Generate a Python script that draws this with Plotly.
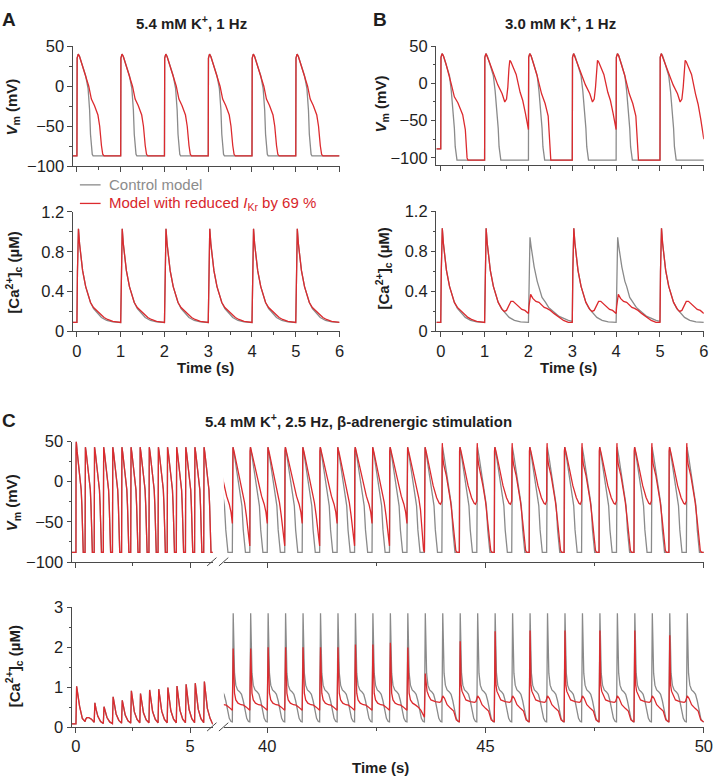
import plotly.graph_objects as go

W, H = 721, 784
GRAY = '#8a8a8a'
RED = '#dc2a2e'
AX = '#4a4a4a'
FONT = 'Liberation Sans, Arial, sans-serif'

# ================= Panel A: 5.4 mM K+, 1 Hz =================
A_stim = [0, 1, 2, 3, 4, 5]
A_vm_ctrl_dt = [0.005, 0.03, 0.06, 0.12, 0.2, 0.255, 0.29, 0.31, 0.33, 0.35, 0.37, 1.0]
A_vm_ctrl = [35, 40, 37, 26, 13, -3, -30, -60, -78, -85, -87, -87]
A_vm_red_dt = [0.005, 0.03, 0.06, 0.12, 0.2, 0.27, 0.33, 0.4, 0.48, 0.52, 0.56, 0.59, 0.62, 1.0]
A_vm_red = [35, 40, 37, 26, 13, 0, -16, -24, -36, -50, -74, -85, -87, -87]
A_ca_ctrl_dt = [0.012, 0.035, 0.06, 0.09, 0.13, 0.2, 0.25, 0.31, 0.38, 0.46, 0.56, 0.68, 0.82, 1.0]
A_ca_ctrl = [0.6, 1.03, 0.88, 0.74, 0.61, 0.45, 0.37, 0.29, 0.23, 0.19, 0.14, 0.11, 0.095, 0.09]
A_ca_red_dt = [0.012, 0.035, 0.06, 0.09, 0.13, 0.2, 0.25, 0.31, 0.38, 0.44, 0.5, 0.56, 0.62, 0.7, 0.82, 1.0]
A_ca_red = [0.6, 1.03, 0.88, 0.74, 0.61, 0.45, 0.37, 0.29, 0.24, 0.215, 0.2, 0.17, 0.14, 0.12, 0.1, 0.09]

# ================= Panel B: 3.0 mM K+, 1 Hz =================
B_stim = [0, 1, 2, 3, 4, 5]
B_red_kind = ['S0', 'E', 'S2', 'E', 'S2', 'E6']
B_ctrl_ca_kind = ['n', 'n', 'low', 'n', 'low', 'n']
B_vm_ctrl_dt = [0.005, 0.03, 0.06, 0.12, 0.2, 0.24, 0.28, 0.31, 0.33, 0.35, 0.37, 1.0]
B_vm_ctrl = [35, 40, 37, 26, 10, -10, -35, -60, -85, -100, -103, -103]
B_vm_S0_dt = [0.005, 0.03, 0.06, 0.12, 0.24, 0.31, 0.39, 0.5, 0.56, 0.58, 0.6, 0.62, 1.0]
B_vm_S0 = [35, 40, 37, 26, -1, -18, -26, -42, -62, -85, -100, -103, -103]
B_vm_E_dt = [0.005, 0.03, 0.1, 0.21, 0.3, 0.4, 0.46, 0.5, 0.53, 0.555, 0.575, 0.6, 0.72, 0.81, 0.87, 0.93, 1.0]
B_vm_E = [35, 40, 30, 12, -2, -14, -25, -21, -5, 20, 31, 29, 12, -12, -23, -40, -62]
B_vm_E6 = [35, 40, 30, 12, -2, -14, -25, -21, -5, 20, 31, 29, 12, -14, -28, -48, -75]
B_vm_S2_dt = [0.005, 0.03, 0.06, 0.12, 0.19, 0.3, 0.38, 0.45, 0.47, 0.49, 0.51, 1.0]
B_vm_S2 = [35, 40, 37, 26, 12, -14, -27, -44, -70, -98, -103, -103]
B_ca_low_dt = [0.012, 0.035, 0.06, 0.09, 0.13, 0.2, 0.24, 0.31, 0.39, 0.46, 0.54, 0.7, 0.91, 1.0]
B_ca_low = [0.55, 0.94, 0.85, 0.74, 0.645, 0.5, 0.45, 0.34, 0.29, 0.24, 0.21, 0.15, 0.11, 0.1]
B_ca_E_dt = [0.012, 0.035, 0.06, 0.09, 0.13, 0.2, 0.31, 0.4, 0.45, 0.5, 0.55, 0.6, 0.65, 0.72, 0.8, 0.85, 0.92, 1.0]
B_ca_E = [0.6, 1.03, 0.88, 0.74, 0.61, 0.45, 0.29, 0.22, 0.2, 0.21, 0.25, 0.3, 0.3, 0.27, 0.24, 0.22, 0.21, 0.18]
B_ca_S2_dt = [0.012, 0.05, 0.1, 0.17, 0.24, 0.3, 0.36, 0.42, 0.5, 0.58, 0.69, 0.8, 0.91, 1.0]
B_ca_S2 = [0.25, 0.37, 0.33, 0.3, 0.29, 0.26, 0.24, 0.23, 0.21, 0.18, 0.145, 0.11, 0.09, 0.09]

# ========== Panel C: 5.4 mM K+, 2.5 Hz, beta-adrenergic ==========
C_left_stim = [0.0, 0.4, 0.8, 1.2, 1.6, 2.0, 2.4, 2.8, 3.2, 3.6, 4.0, 4.4, 4.8, 5.2, 5.6]
C_left_kind = ['first', 'n', 'n', 'n', 'n', 'n', 'n', 'n', 'n', 'n', 'n', 'n', 'n', 'n', 'n']
C_vm_first_dt = [0.005, 0.015, 0.05, 0.1, 0.18, 0.23, 0.26, 0.28, 0.3, 0.32, 0.4]
C_vm_first = [40, 50, 38, 25, 8, -10, -30, -60, -84, -88, -88]
C_vm_left_dt = [0.005, 0.015, 0.05, 0.1, 0.18, 0.23, 0.26, 0.28, 0.3, 0.32, 0.4]
C_vm_left = [38, 43, 36, 25, 8, -10, -30, -60, -84, -88, -88]
C_ca_left_dt = [0.03, 0.08, 0.16, 0.28, 0.4]
C_ca_pk = [1.02, 0.20, 0.61, 0.51, 0.76, 0.67, 0.91, 0.84, 0.93, 0.95, 0.99, 1.03, 1.07, 1.10, 1.14]
C_ca_m1 = [0.80, 0.24, 0.45, 0.38, 0.56, 0.50, 0.66, 0.62, 0.68, 0.69, 0.72, 0.74, 0.77, 0.79, 0.82]
C_ca_m2 = [0.52, 0.24, 0.27, 0.24, 0.33, 0.30, 0.38, 0.36, 0.39, 0.40, 0.41, 0.42, 0.44, 0.45, 0.47]
C_ca_m3 = [0.22, 0.20, 0.14, 0.13, 0.17, 0.16, 0.19, 0.18, 0.19, 0.19, 0.20, 0.20, 0.21, 0.21, 0.22]
C_ca_end = [0.14, 0.12, 0.09, 0.09, 0.10, 0.10, 0.11, 0.11, 0.11, 0.11, 0.11, 0.11, 0.11, 0.11, 0.07]

C_right_ctrl_stim = [38.8, 39.2, 39.6, 40.0, 40.4, 40.8, 41.2, 41.6, 42.0, 42.4, 42.8, 43.2, 43.6, 44.0,
                     44.4, 44.8, 45.2, 45.6, 46.0, 46.4, 46.8, 47.2, 47.6, 48.0, 48.4, 48.8, 49.2, 49.6]
C_right_red_stim = [38.8, 39.2, 39.6, 40.0, 40.4, 40.8, 41.2, 41.6, 42.0, 42.4, 42.8, 43.2,
                    43.6, 44.4, 45.2, 46.0, 46.8, 47.6, 48.4, 49.2]
C_right_red_kind = ['a', 'b', 'a', 'b', 'a', 'b', 'a', 'b', 'a', 'b', 'a', 'r',
                    'p', 'p', 'p', 'p', 'p', 'p', 'p', 'p']
C_right_red_ca_kind = ['e', 'e', 'e', 'e', 'e', 'e', 'e', 'e', 'e', 'e', 'e', 'r',
                       'p', 'p', 'p', 'p', 'p', 'p', 'p', 'p']
C_right_red_ca_pk = [1.97, 1.97, 1.97, 2.0, 2.0, 2.0, 2.0, 2.0, 2.07, 2.07, 2.11, 1.99,
                     1.34, 2.15, 2.4, 2.42, 2.42, 2.42, 2.42, 2.3]
C_vm_rctrl_dt = [0.005, 0.015, 0.05, 0.1, 0.14, 0.18, 0.22, 0.25, 0.28, 0.3, 0.4]
C_vm_rctrl = [38, 43, 32, 12, -3, -15, -30, -60, -84, -88, -88]
C_vm_a_dt = [0.005, 0.015, 0.05, 0.1, 0.2, 0.27, 0.33, 0.37, 0.4]
C_vm_a = [38, 43, 35, 22, -3, -18, -28, -38, -52]
C_vm_b_dt = [0.005, 0.015, 0.05, 0.1, 0.2, 0.26, 0.28, 0.32, 0.36, 0.4]
C_vm_b = [38, 43, 35, 22, -5, -22, -26, -42, -62, -80]
C_vm_r_dt = [0.005, 0.015, 0.05, 0.1, 0.2, 0.27, 0.31, 0.35, 0.38, 0.4]
C_vm_r = [38, 43, 35, 22, -3, -20, -35, -65, -85, -88]
C_vm_p_dt = [0.005, 0.015, 0.05, 0.1, 0.2, 0.28, 0.34, 0.37, 0.4, 0.404, 0.41, 0.42, 0.44, 0.5,
             0.54, 0.6, 0.65, 0.69, 0.72, 0.75, 0.8]
C_vm_p = [38, 43, 35, 22, -5, -20, -27, -28, -24, 35, 48, 32, 22, 8,
          -5, -25, -49, -75, -86, -88, -88]
C_ca_rctrl_dt = [0.02, 0.035, 0.05, 0.08, 0.12, 0.17, 0.21, 0.25, 0.29, 0.33, 0.37, 0.4]
C_ca_rctrl = [2.85, 1.9, 1.35, 1.05, 0.93, 0.88, 0.82, 0.66, 0.42, 0.22, 0.14, 0.13]
C_ca_e_dt = [0.02, 0.035, 0.05, 0.08, 0.13, 0.2, 0.26, 0.32, 0.37, 0.4]
C_ca_e = ['pk', 1.3, 0.85, 0.68, 0.6, 0.56, 0.55, 0.5, 0.45, 0.42]
C_ca_r = ['pk', 1.3, 0.85, 0.68, 0.6, 0.55, 0.5, 0.42, 0.32, 0.25]
C_ca_p_dt = [0.02, 0.04, 0.06, 0.1, 0.15, 0.25, 0.35, 0.38, 0.42, 0.46, 0.52, 0.6, 0.67, 0.73, 0.77, 0.8]
C_ca_p = ['pk', 1.05, 0.9, 0.78, 0.68, 0.64, 0.62, 0.64, 0.78, 0.72, 0.56, 0.47, 0.4, 0.18, 0.14, 0.13]


def build(init_t, init_v, stims, kinds, templates, per_beat=None):
    ts, vs = list(init_t), list(init_v)
    for i, (t0, k) in enumerate(zip(stims, kinds)):
        dts, vals = templates[k]
        for dt, v in zip(dts, vals):
            if isinstance(v, str):
                v = per_beat[v][i]
            ts.append(round(t0 + dt, 4))
            vs.append(v)
    return ts, vs


def px(x):
    return x / W


def py(y):
    return 1 - y / H


fig = go.Figure()


def add(xy, color, xa, ya):
    fig.add_trace(go.Scatter(x=xy[0], y=xy[1], mode='lines', xaxis=xa, yaxis=ya,
                             line=dict(color=color, width=1.3), hoverinfo='skip',
                             showlegend=False))


# Panel A
one = ['x'] * 6
add(build([-0.1, 0], [-87, -87], A_stim, one, {'x': (A_vm_ctrl_dt, A_vm_ctrl)}), GRAY, 'x', 'y')
add(build([-0.1, 0], [-87, -87], A_stim, one, {'x': (A_vm_red_dt, A_vm_red)}), RED, 'x', 'y')
add(build([-0.1, 0], [0.09, 0.09], A_stim, one, {'x': (A_ca_ctrl_dt, A_ca_ctrl)}), GRAY, 'x2', 'y2')
add(build([-0.1, 0], [0.09, 0.09], A_stim, one, {'x': (A_ca_red_dt, A_ca_red)}), RED, 'x2', 'y2')

# Panel B
add(build([-0.1, 0], [-88, -88], B_stim, one, {'x': (B_vm_ctrl_dt, B_vm_ctrl)}), GRAY, 'x3', 'y3')
add(build([-0.1, 0], [-88, -88], B_stim, B_red_kind,
          {'S0': (B_vm_S0_dt, B_vm_S0), 'E': (B_vm_E_dt, B_vm_E), 'E6': (B_vm_E_dt, B_vm_E6),
           'S2': (B_vm_S2_dt, B_vm_S2)}), RED, 'x3', 'y3')
add(build([-0.1, 0], [0.09, 0.09], B_stim, B_ctrl_ca_kind,
          {'n': (A_ca_ctrl_dt, A_ca_ctrl), 'low': (B_ca_low_dt, B_ca_low)}), GRAY, 'x4', 'y4')
add(build([-0.1, 0], [0.09, 0.09], B_stim, B_red_kind,
          {'S0': (A_ca_red_dt, A_ca_red), 'E': (B_ca_E_dt, B_ca_E), 'E6': (B_ca_E_dt, B_ca_E),
           'S2': (B_ca_S2_dt, B_ca_S2)}), RED, 'x4', 'y4')

# Panel C left
cl_vm = build([-0.2, 0], [-88, -88], C_left_stim, C_left_kind,
              {'first': (C_vm_first_dt, C_vm_first), 'n': (C_vm_left_dt, C_vm_left)})
cl_ca = build([-0.2, 0], [0.08, 0.08], C_left_stim, ['n'] * len(C_left_stim),
              {'n': (C_ca_left_dt, ['pk', 'm1', 'm2', 'm3', 'end'])},
              {'pk': C_ca_pk, 'm1': C_ca_m1, 'm2': C_ca_m2, 'm3': C_ca_m3, 'end': C_ca_end})
add(cl_vm, GRAY, 'x5', 'y5')
add(cl_vm, RED, 'x5', 'y5')
add(cl_ca, GRAY, 'x7', 'y7')
add(cl_ca, RED, 'x7', 'y7')

# Panel C right
nC = len(C_right_ctrl_stim)
add(build([38.8], [-88], C_right_ctrl_stim, ['n'] * nC, {'n': (C_vm_rctrl_dt, C_vm_rctrl)}), GRAY, 'x6', 'y5')
add(build([38.8], [-52], C_right_red_stim, C_right_red_kind,
          {'a': (C_vm_a_dt, C_vm_a), 'b': (C_vm_b_dt, C_vm_b), 'r': (C_vm_r_dt, C_vm_r),
           'p': (C_vm_p_dt, C_vm_p)}), RED, 'x6', 'y5')
add(build([38.8], [0.13], C_right_ctrl_stim, ['n'] * nC, {'n': (C_ca_rctrl_dt, C_ca_rctrl)}), GRAY, 'x8', 'y7')
add(build([38.8], [0.42], C_right_red_stim, C_right_red_ca_kind,
          {'e': (C_ca_e_dt, C_ca_e), 'r': (C_ca_e_dt, C_ca_r), 'p': (C_ca_p_dt, C_ca_p)},
          {'pk': C_right_red_ca_pk}), RED, 'x8', 'y7')


def axis(domain, rng, dtick, minor, tick0=0, labels=True, anchor=None, line=True):
    d = dict(domain=domain, range=rng, tickmode='linear', tick0=tick0, dtick=dtick,
             showline=line, linecolor=AX, linewidth=1, ticks='outside', ticklen=4.5,
             tickwidth=1, tickcolor=AX, showgrid=False, zeroline=False,
             showticklabels=labels, tickfont=dict(family=FONT, size=16.5, color='#1e1e1e'),
             minor=dict(ticks='outside', dtick=minor, tick0=tick0, ticklen=2.5,
                        tickwidth=1, tickcolor=AX, showgrid=False),
             fixedrange=True)
    if anchor:
        d['anchor'] = anchor
    return d


xA = [px(73), px(343.3)]
xB = [px(441.5), px(712.7)]
fig.update_layout(
    width=W, height=H, margin=dict(l=0, r=0, t=0, b=0),
    paper_bgcolor='white', plot_bgcolor='white', showlegend=False,
    font=dict(family=FONT, color='#1e1e1e'),
    xaxis=axis(xA, [-0.09, 6], 1, 0.5, labels=False, anchor='y'),
    yaxis=axis([py(161), py(38)], [-100, 50], 50, 25, anchor='x'),
    xaxis2=axis(xA, [-0.09, 6], 1, 0.5, anchor='y2'),
    yaxis2=axis([py(330), py(207.7)], [0, 1.2], 0.4, 0.2, anchor='x2'),
    xaxis3=axis(xB, [-0.1, 6], 1, 0.5, labels=False, anchor='y3'),
    yaxis3=axis([py(160), py(38)], [-110, 50], 50, 25, anchor='x3'),
    xaxis4=axis(xB, [-0.1, 6], 1, 0.5, anchor='y4'),
    yaxis4=axis([py(330), py(207)], [0, 1.2], 0.4, 0.2, anchor='x4'),
    xaxis5=axis([px(72), px(214.8)], [-0.173, 6.0], 5, 2.5, labels=False, anchor='y5'),
    yaxis5=axis([py(566), py(442.7)], [-100, 50], 50, 25, anchor='x5'),
    xaxis6=axis([px(226), px(712.7)], [39.006, 50], 5, 2.5, tick0=40, labels=False, anchor='y5'),
    xaxis7=axis([px(72), px(214.8)], [-0.173, 6.0], 5, 2.5, anchor='y7'),
    yaxis7=axis([py(735), py(612.3)], [0, 3], 1, 0.5, anchor='x7'),
    xaxis8=axis([px(226), px(712.7)], [39.006, 50], 5, 2.5, tick0=40, anchor='y7'),
)

ann = []


def text(x, y, t, size=15, angle=0, xanchor='center', color='#1e1e1e'):
    ann.append(dict(x=px(x), y=py(y), xref='paper', yref='paper', text=t, showarrow=False,
                    textangle=angle, xanchor=xanchor, yanchor='middle',
                    font=dict(family=FONT, size=size, color=color)))


VM = '<b><i>V</i><sub>m</sub> (mV)</b>'
CA = '<b>[Ca<sup>2+</sup>]<sub>c</sub> (µM)</b>'
text(8, 11, '<b>A</b>', 19)
text(384, 11, '<b>B</b>', 19)
text(8, 421, '<b>C</b>', 19)
text(193, 14, '<b>5.4 mM K<sup>+</sup>, 1 Hz</b>', 15)
text(567, 14, '<b>3.0 mM K<sup>+</sup>, 1 Hz</b>', 15)
text(363, 421, '<b>5.4 mM K<sup>+</sup>, 2.5 Hz, β-adrenergic stimulation</b>', 15)
text(12, 100, VM, 15, -90)
text(13, 270, CA, 15, -90)
text(386, 97, VM, 15, -90)
text(388, 266, CA, 15, -90)
text(12, 505, VM, 15, -90)
text(13, 673, CA, 15, -90)
text(207, 367, '<b>Time (s)</b>', 15)
text(575, 367, '<b>Time (s)</b>', 15)
text(385, 776, '<b>Time (s)</b>', 15)
text(107, 180, 'Control model', 15, xanchor='left', color='#8c8c8c')
text(107, 199, 'Model with reduced <i>I</i><sub>Kr</sub> by 69 %', 15, xanchor='left', color='#d8262b')

shapes = [
    dict(type='line', xref='paper', yref='paper', x0=px(80), x1=px(101), y0=py(180), y1=py(180),
         line=dict(color=GRAY, width=1.3)),
    dict(type='line', xref='paper', yref='paper', x0=px(80), x1=px(101), y0=py(199), y1=py(199),
         line=dict(color=RED, width=1.3)),
]
for ya in (566, 735):
    for x0 in (209, 221):
        shapes.append(dict(type='line', xref='paper', yref='paper', x0=px(x0), x1=px(x0 + 9.5),
                           y0=py(ya + 4), y1=py(ya - 4.5), line=dict(color=AX, width=1)))

fig.update_layout(annotations=ann, shapes=shapes)
fig.write_html('out.html')
